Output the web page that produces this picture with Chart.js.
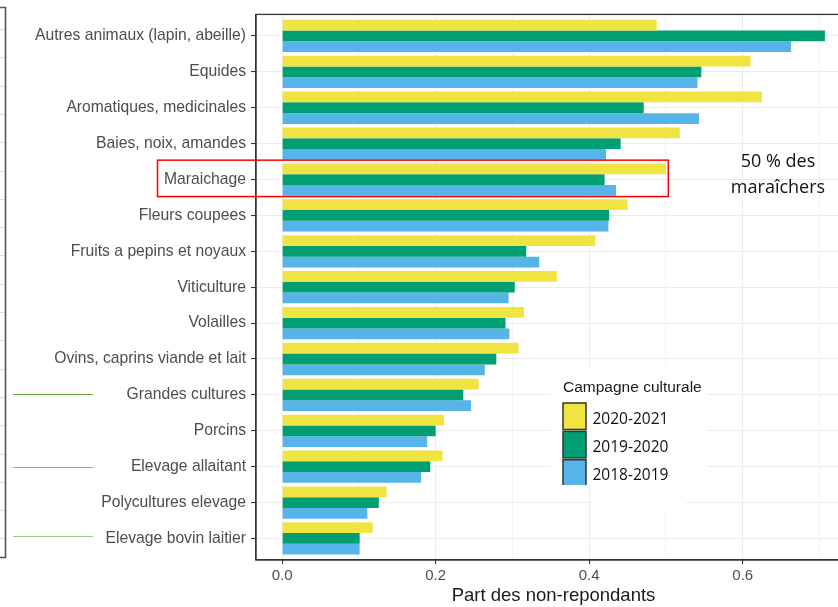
<!DOCTYPE html>
<html lang="fr">
<head>
<meta charset="utf-8">
<title>Part des non-repondants</title>
<script src="https://cdn.jsdelivr.net/npm/chart.js@4.4.1/dist/chart.umd.min.js"></script>
<style>
    html, body { margin: 0; padding: 0; background: #fff; overflow: hidden; }
    #wrap { width: 838px; height: 607px; overflow: hidden; }
</style>
</head>
<body>
<div id="wrap"><canvas id="barChart" width="860" height="607"></canvas></div>
<script>
const categories = [
    'Autres animaux (lapin, abeille)', 'Equides', 'Aromatiques, medicinales',
    'Baies, noix, amandes', 'Maraichage', 'Fleurs coupees', 'Fruits a pepins et noyaux',
    'Viticulture', 'Volailles', 'Ovins, caprins viande et lait', 'Grandes cultures',
    'Porcins', 'Elevage allaitant', 'Polycultures elevage', 'Elevage bovin laitier'
];
const campagnes = ['2020-2021', '2019-2020', '2018-2019'];
const part2020_2021 = [0.488, 0.610, 0.625, 0.518, 0.500, 0.450, 0.408, 0.358, 0.315, 0.308, 0.256, 0.211, 0.209, 0.136, 0.118];
const part2019_2020 = [0.707, 0.546, 0.471, 0.441, 0.420, 0.426, 0.318, 0.303, 0.291, 0.279, 0.236, 0.200, 0.193, 0.126, 0.101];
const part2018_2019 = [0.663, 0.541, 0.543, 0.422, 0.435, 0.425, 0.335, 0.295, 0.296, 0.264, 0.246, 0.189, 0.181, 0.111, 0.101];
const xTicks = [0, 0.1, 0.2, 0.3, 0.4, 0.5, 0.6, 0.7];
const couleurs = ['#F0E442', '#009E73', '#56B4E9'];

document.addEventListener('DOMContentLoaded', function () {
    const ctx = document.getElementById('barChart').getContext('2d');
    Chart.defaults.font.family = "'Liberation Sans', Arial, sans-serif";

    const series = [part2020_2021, part2019_2020, part2018_2019];
    const isMinor = (v) => Math.round(v * 10) % 2 === 1;

    // cadre du panneau (le bord droit sort du canvas visible)
    const panelFrame = {
        id: 'panelFrame',
        afterDatasetsDraw(chart) {
            const { ctx, chartArea } = chart;
            ctx.save();
            ctx.strokeStyle = '#333';
            ctx.lineWidth = 1.3;
            ctx.strokeRect(chartArea.left, chartArea.top, chartArea.right - chartArea.left, chartArea.bottom - chartArea.top);
            ctx.restore();
        }
    };

    // traits parasites sur la gauche de la diapo
    const sideMarks = {
        id: 'sideMarks',
        afterDraw(chart) {
            const ctx = chart.ctx;
            ctx.save();
            ctx.strokeStyle = '#dedede';
            ctx.lineWidth = 1;
            for (let y = 29; y < 550; y += 28.3) {
                ctx.beginPath();
                ctx.moveTo(0, Math.round(y) + 0.5);
                ctx.lineTo(5, Math.round(y) + 0.5);
                ctx.stroke();
            }
            ctx.strokeStyle = '#555';
            ctx.lineWidth = 1.6;
            ctx.beginPath();
            ctx.moveTo(0, 7.5);
            ctx.lineTo(5.5, 7.5);
            ctx.lineTo(5.5, 557.5);
            ctx.lineTo(0, 557.5);
            ctx.stroke();
            [[394, '#6aaa3f'], [467, '#84bb5c'], [536, '#9acb7a']].forEach(([y, c]) => {
                ctx.strokeStyle = c;
                ctx.lineWidth = 1.2;
                ctx.beginPath();
                ctx.moveTo(13, y + 0.5);
                ctx.lineTo(93, y + 0.5);
                ctx.stroke();
            });
            ctx.restore();
        }
    };

    // encadré rouge autour du maraichage et commentaire
    const maraichageNote = {
        id: 'maraichageNote',
        afterDraw(chart) {
            const { ctx, scales } = chart;
            const i = categories.indexOf('Maraichage');
            const top = scales.y.getPixelForValue(i - 0.54);
            const bottom = scales.y.getPixelForValue(i + 0.475);
            const right = scales.x.getPixelForValue(0.503);
            ctx.save();
            ctx.strokeStyle = '#ff0000';
            ctx.lineWidth = 1.5;
            ctx.strokeRect(157.5, top, right - 157.5, bottom - top);
            ctx.fillStyle = '#111';
            ctx.font = "18px 'Open Sans', sans-serif";
            ctx.textAlign = 'center';
            ctx.textBaseline = 'alphabetic';
            ctx.fillText('50 % des', 778, 166.5);
            ctx.fillText('maraîchers', 778, 193);
            ctx.restore();
        }
    };

    // légende posée dans le panneau
    const campagneLegend = {
        id: 'campagneLegend',
        afterDraw(chart) {
            const ctx = chart.ctx;
            ctx.save();
            ctx.fillStyle = '#fff';
            ctx.fillRect(551, 367, 156, 118);
            ctx.fillRect(592, 485, 94, 27);
            ctx.fillStyle = '#1a1a1a';
            ctx.font = "15.5px 'Liberation Sans', Arial, sans-serif";
            ctx.textAlign = 'left';
            ctx.textBaseline = 'alphabetic';
            ctx.fillText('Campagne culturale', 563, 391.5);
            ctx.beginPath();
            ctx.rect(551, 367, 156, 118);
            ctx.clip();
            chart.data.datasets.forEach((ds, k) => {
                const y = 403 + k * 28.4;
                ctx.fillStyle = ds.backgroundColor;
                ctx.fillRect(563, y, 23, 26.5);
                ctx.strokeStyle = '#333';
                ctx.lineWidth = 1.5;
                ctx.strokeRect(563, y, 23, 26.5);
                ctx.fillStyle = '#111';
                ctx.font = "15.5px 'Open Sans', sans-serif";
                ctx.fillText(ds.label, 592.5, y + 20.5);
            });
            ctx.restore();
        }
    };

    new Chart(ctx, {
        type: 'bar',
        data: {
            datasets: series.map((values, k) => ({
                label: campagnes[k],
                data: values.map((v, i) => ({ x: v, y: i })),
                backgroundColor: couleurs[k],
                borderWidth: 0,
                categoryPercentage: 0.9,
                barPercentage: 1.0
            }))
        },
        options: {
            indexAxis: 'y',
            responsive: false,
            animation: false,
            layout: { padding: { top: 6, right: 9, left: 0, bottom: 0 } },
            plugins: {
                legend: { display: false },
                tooltip: { enabled: false }
            },
            scales: {
                x: {
                    type: 'linear',
                    min: -0.034,
                    max: 0.741,
                    afterBuildTicks: (axis) => { axis.ticks = xTicks.map(v => ({ value: v })); },
                    afterFit: (axis) => { axis.height = 47; },
                    grid: {
                        color: (c) => c.tick && isMinor(c.tick.value) ? '#f2f2f2' : '#ebebeb',
                        tickColor: (c) => c.tick && isMinor(c.tick.value) ? 'rgba(0,0,0,0)' : '#333',
                        tickLength: 4,
                        lineWidth: 1.1
                    },
                    border: { color: '#333', width: 1.3 },
                    ticks: {
                        autoSkip: false,
                        maxRotation: 0,
                        padding: 3,
                        color: '#4d4d4d',
                        font: { size: 15 },
                        callback: (v) => isMinor(v) ? '' : v.toFixed(1)
                    },
                    title: {
                        display: true,
                        text: 'Part des non-repondants',
                        color: '#1a1a1a',
                        font: { size: 18.5 },
                        padding: { top: 0, bottom: 0 }
                    }
                },
                y: {
                    type: 'linear',
                    reverse: true,
                    offset: false,
                    min: -0.6,
                    max: 14.6,
                    afterBuildTicks: (axis) => { axis.ticks = categories.map((c, i) => ({ value: i })); },
                    afterFit: (axis) => { axis.width = 256; },
                    grid: {
                        offset: false,
                        color: '#ebebeb',
                        tickColor: '#333',
                        tickLength: 5,
                        lineWidth: 1.1
                    },
                    border: { color: '#333', width: 1.3 },
                    ticks: {
                        autoSkip: false,
                        padding: 5,
                        color: '#4d4d4d',
                        font: { size: 15.7 },
                        callback: (v) => categories[v]
                    }
                }
            }
        },
        plugins: [panelFrame, sideMarks, maraichageNote, campagneLegend]
    });
});
</script>
</body>
</html>
